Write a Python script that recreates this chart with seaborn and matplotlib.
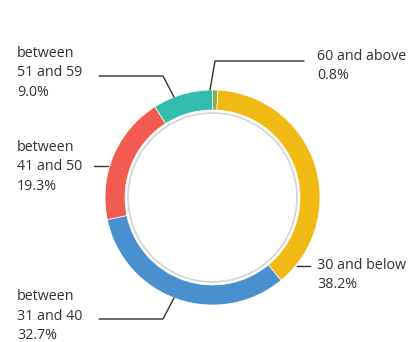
import matplotlib
matplotlib.use("Agg")
import matplotlib.pyplot as plt
import seaborn as sns

sns.set_theme(style="white")
plt.rcParams["font.family"] = ["Open Sans", "DejaVu Sans"]

# data (clockwise from 12 o'clock)
groups = ["60 and above", "30 and below", "between\n31 and 40", "between\n41 and 50", "between\n51 and 59"]
shares = [0.8, 38.2, 32.7, 19.3, 9.0]
colors = ["#8DAF48", "#F1B913", "#4A8FCE", "#F25C50", "#33BDAC"]

W, H = 417, 342
fig = plt.figure(figsize=(W / 100, H / 100), dpi=100)
ax = fig.add_axes([0, 0, 1, 1])

cx, cy, R, ring = 212.5, 197.5, 107.5, 20

# pie is drawn in a flipped y axis, so counterclock=True gives clockwise on screen
ax.pie(shares, colors=colors, center=(cx, cy), radius=R, startangle=-90,
       counterclock=True, frame=True,
       wedgeprops=dict(width=ring, edgecolor="white", linewidth=0.5))
ax.set_xlim(0, W)
ax.set_ylim(H, 0)
ax.set_aspect("equal")
ax.axis("off")

inner = plt.Circle((cx, cy), 84.5, fill=False, color="#d4d4d4", lw=1.2)
ax.add_patch(inner)

txt = dict(fontsize=10.3, color="#333333", linespacing=1.42)
line = dict(color="#333333", lw=1)

labels = [f"{g}\n{v:.1f}%" for g, v in zip(groups, shares)]

# 60 and above
ax.plot([304, 215, 210], [61, 61, 90], **line)
ax.text(317, 66, labels[0], ha="left", va="center", **txt)
# 30 and below
ax.plot([297, 310], [266, 266], **line)
ax.text(317, 275, labels[1], ha="left", va="center", **txt)
# 31 to 40
ax.plot([99, 163, 174], [319, 319, 298], **line)
ax.text(17, 316, labels[2], ha="left", va="center", **txt)
# 41 to 50
ax.plot([94, 108], [166, 166], **line)
ax.text(17, 167, labels[3], ha="left", va="center", **txt)
# 51 to 59
ax.plot([99, 163, 174], [76, 76, 97], **line)
ax.text(17, 73, labels[4], ha="left", va="center", **txt)

fig.savefig("out.png", dpi=100, facecolor="white")
